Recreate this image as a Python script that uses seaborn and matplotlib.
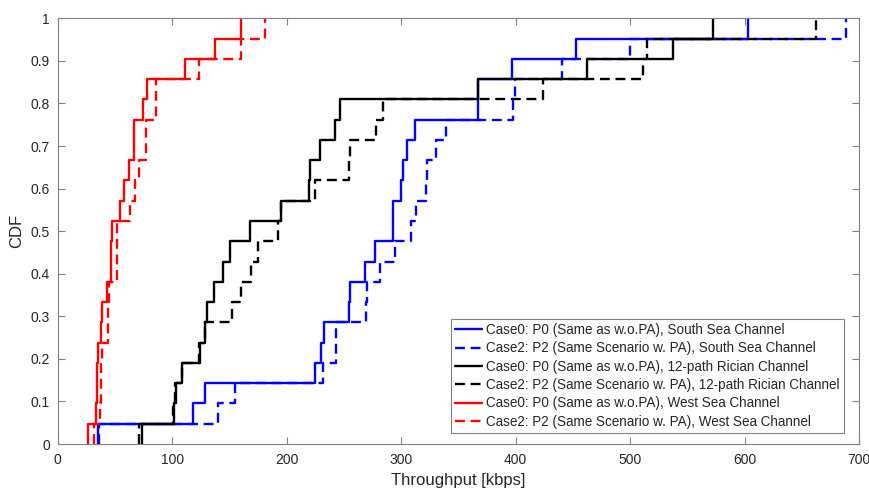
import numpy as np
import matplotlib
matplotlib.use("Agg")
import matplotlib.pyplot as plt
import seaborn as sns

# Throughput samples (kbps), 21 per case, read from the empirical CDF steps
south_case0 = [35.5, 118.3, 128.5, 225.1, 230.4, 232.4, 254.5, 255.0, 268.8, 277.5,
               292.6, 293.2, 299.6, 301.6, 305.0, 312.4, 366.8, 367.4, 396.7, 452.9, 602.6]
south_case2 = [36.0, 140.2, 154.7, 231.8, 243.0, 243.4, 269.3, 269.9, 281.2, 294.3,
               309.0, 313.0, 321.7, 322.3, 330.1, 339.4, 397.6, 399.7, 440.3, 500.3, 688.5]
rician_case0 = [73.3, 101.7, 103.0, 109.0, 124.2, 128.5, 130.0, 136.4, 144.5, 150.3,
                167.8, 194.9, 219.5, 220.2, 229.5, 242.0, 246.3, 367.1, 462.5, 537.2, 572.1]
rician_case2 = [71.2, 100.3, 102.4, 108.2, 123.3, 128.3, 152.4, 159.7, 169.3, 175.1,
                192.8, 195.5, 224.5, 254.5, 255.5, 278.3, 284.1, 423.7, 511.0, 514.8, 662.3]
west_case0 = [26.7, 33.8, 34.2, 34.6, 35.5, 38.2, 38.6, 42.8, 46.3, 46.7,
              47.1, 54.4, 58.1, 62.2, 66.4, 66.8, 74.2, 77.7, 111.1, 137.3, 159.7]
west_case2 = [31.7, 37.4, 37.8, 38.0, 38.3, 44.0, 44.2, 44.5, 51.5, 51.8,
              52.2, 63.1, 67.8, 71.0, 76.8, 77.2, 85.6, 86.0, 123.3, 159.7, 181.5]

labels = [
    "Case0: P0 (Same as w.o.PA), South Sea Channel",
    "Case2: P2 (Same Scenario w. PA), South Sea Channel",
    "Case0: P0 (Same as w.o.PA), 12-path Rician Channel",
    "Case2: P2 (Same Scenario w. PA), 12-path Rician Channel",
    "Case0: P0 (Same as w.o.PA), West Sea Channel",
    "Case2: P2 (Same Scenario w. PA), West Sea Channel",
]
x_ticks = [0, 100, 200, 300, 400, 500, 600, 700]
y_ticks = [0, 0.1, 0.2, 0.3, 0.4, 0.5, 0.6, 0.7, 0.8, 0.9, 1.0]
y_ticklabels = ["0", "0.1", "0.2", "0.3", "0.4", "0.5", "0.6", "0.7", "0.8", "0.9", "1"]

sns.set_style("ticks")
plt.rcParams["font.family"] = ["Liberation Sans", "DejaVu Sans"]

fig = plt.figure(figsize=(8.7, 4.94), dpi=100)
ax = fig.add_axes([0.0663, 0.1012, 0.9211, 0.8617])

series = [
    (south_case0, "#0000ff", "-"),
    (south_case2, "#0000ff", "--"),
    (rician_case0, "#000000", "-"),
    (rician_case2, "#000000", "--"),
    (west_case0, "#ff0000", "-"),
    (west_case2, "#ff0000", "--"),
]

for (vals, color, ls), lab in zip(series, labels):
    sns.ecdfplot(x=vals, ax=ax, color=color, linewidth=1.7, label=lab)
    line = ax.lines[-1]
    xd, yd = line.get_data()
    xd = np.asarray(xd, dtype=float).copy()
    xd[0] = xd[1]  # start the stairs at the first sample (MATLAB style)
    line.set_data(xd, yd)
    if ls == "--":
        line.set_dashes((4.2, 2.4))

ax.set_xlim(0, 700)
ax.set_ylim(0, 1)
ax.set_xticks(x_ticks)
ax.set_yticks(y_ticks)
ax.set_yticklabels(y_ticklabels)
ax.tick_params(direction="in", top=True, right=True, length=5, width=0.8,
               color="#808080", labelcolor="#262626", labelsize=10)
ax.tick_params(axis="x", pad=6.5)
ax.tick_params(axis="y", pad=5.5)
for sp in ax.spines.values():
    sp.set_visible(True)
    sp.set_color("#808080")
    sp.set_linewidth(0.8)

ax.set_xlabel("Throughput [kbps]", fontsize=12, color="#262626", labelpad=4)
ax.set_ylabel("CDF", fontsize=12, color="#262626", labelpad=5)

leg = ax.legend(loc="lower right", bbox_to_anchor=(0.9813, 0.0265), borderaxespad=0,
                fontsize=9.75, frameon=True, fancybox=False, edgecolor="#808080",
                framealpha=1, handlelength=2.0, handletextpad=0.3,
                labelspacing=0.32, borderpad=0.3)
leg.get_frame().set_linewidth(0.8)
for t in leg.get_texts():
    t.set_color("#262626")

fig.savefig("out.png", dpi=100)
